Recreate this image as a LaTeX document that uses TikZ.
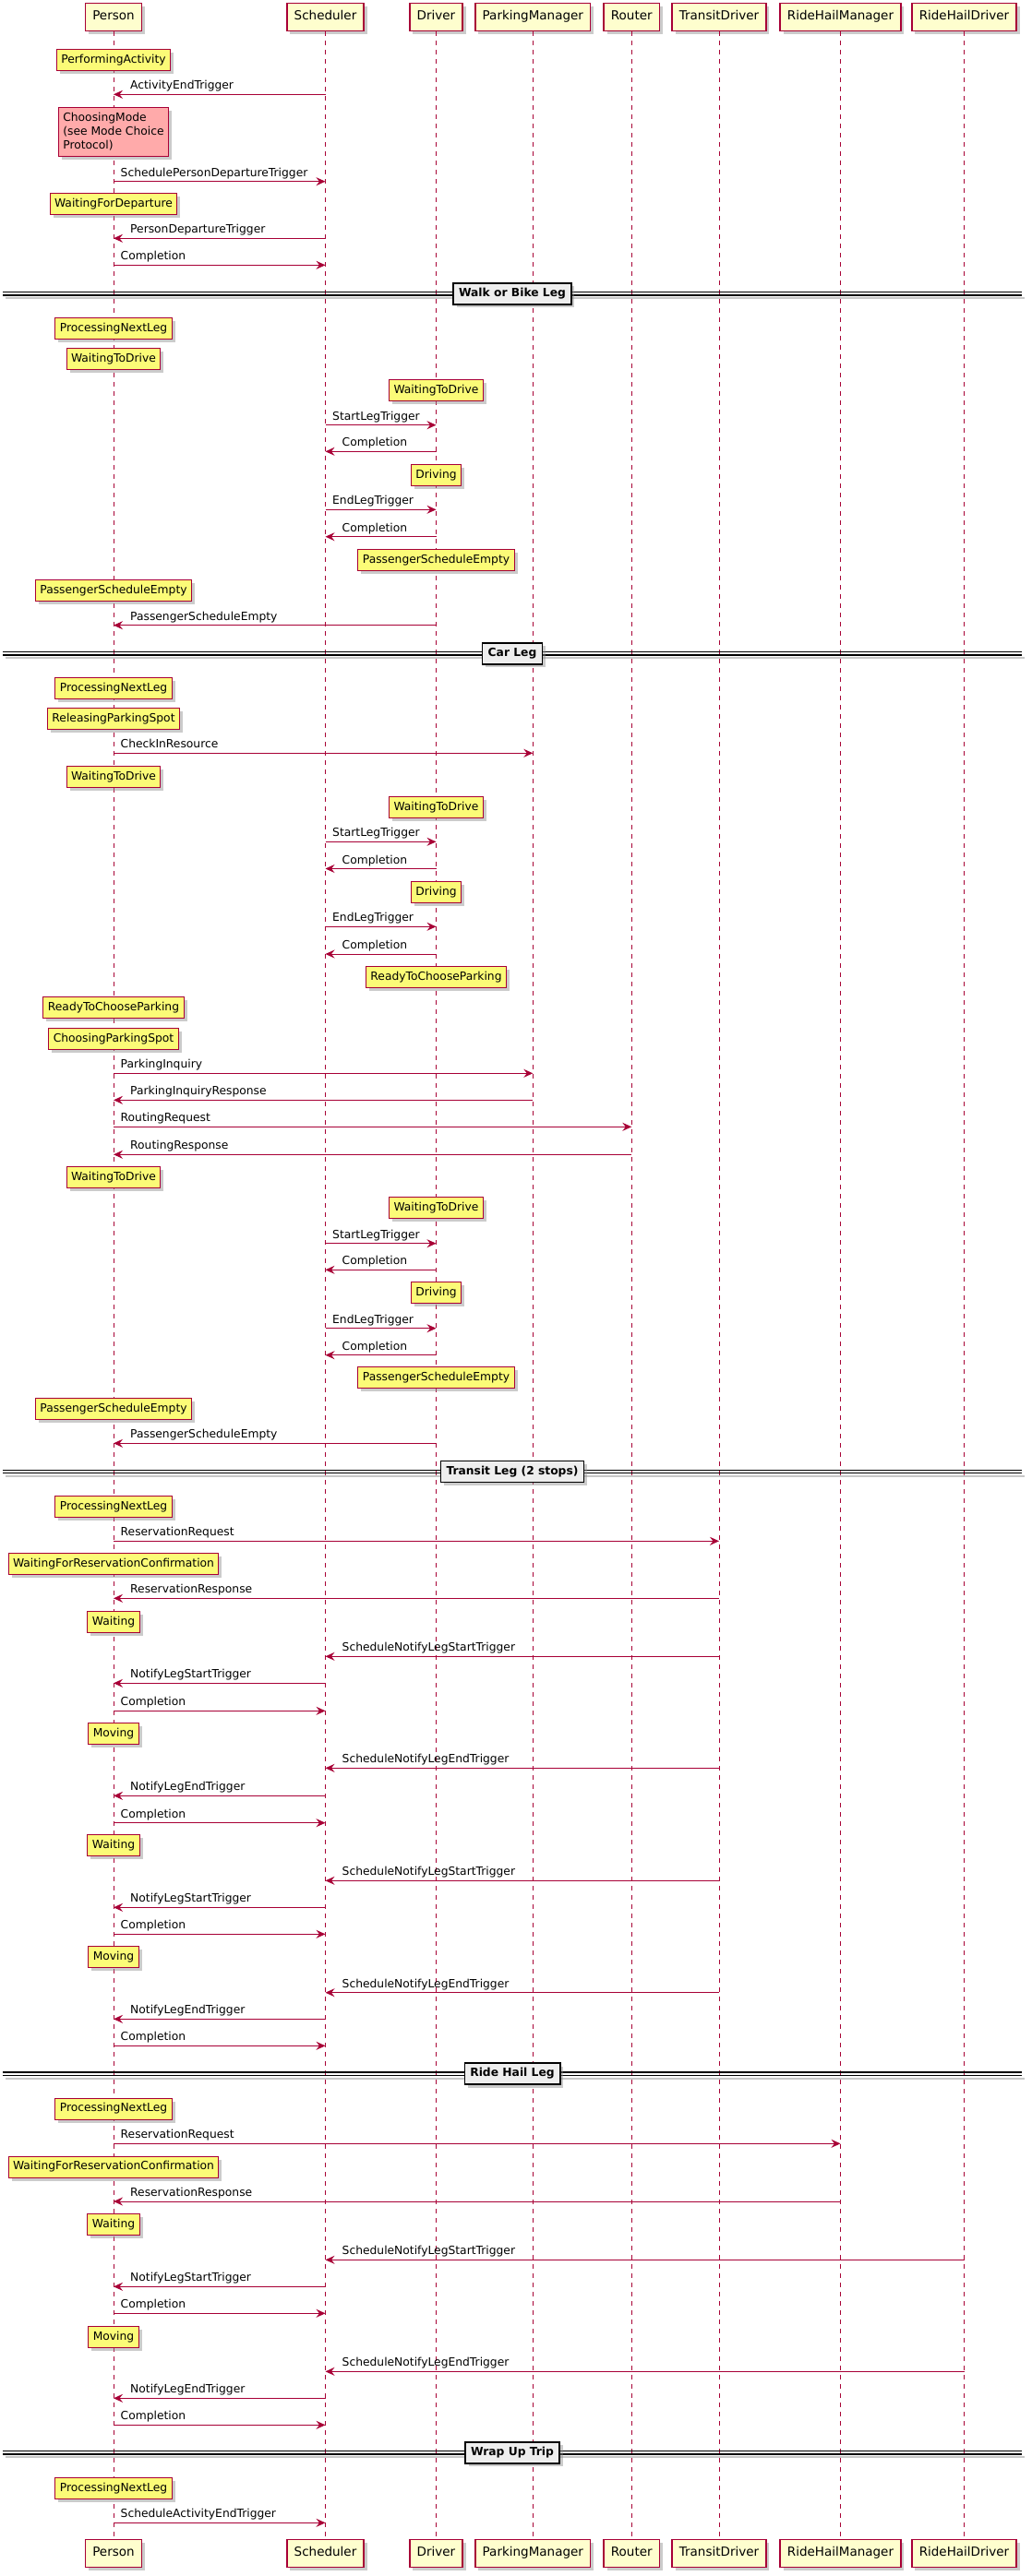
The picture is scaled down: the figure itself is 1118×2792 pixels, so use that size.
\documentclass[tikz,border=0pt]{standalone}
\usepackage{fontspec}
\setmainfont{DejaVu Sans}
\usetikzlibrary{arrows.meta,shadows,calc}
\definecolor{pu}{HTML}{A80036}
\definecolor{partfill}{HTML}{FEFECE}
\definecolor{notefill}{HTML}{FBFB77}
\definecolor{pinkfill}{HTML}{FFAAAA}
\definecolor{divfill}{HTML}{EEEEEE}
\tikzset{
  shad/.style={drop shadow={shadow xshift=3.5pt,shadow yshift=-3.5pt,fill=black!45,opacity=0.45}},
  part/.style={draw=pu, fill=partfill, line width=1.4pt, minimum height=30pt, inner xsep=7.8pt, inner ysep=0pt,
    font=\fontsize{13.5}{16}\selectfont, text height=10pt, text depth=3pt, shad},
  notebase/.style={draw=pu, fill=notefill, line width=1pt, inner xsep=5pt, shad,
    font=\fontsize{12.3}{15}\selectfont},
  note/.style={notebase, minimum height=23pt, inner ysep=0pt, text height=9.2pt, text depth=2.8pt},
  life/.style={draw=pu, line width=0.9pt, dash pattern=on 5pt off 5pt},
  msg/.style={draw=pu, line width=1pt, -{Stealth[length=10pt,width=9pt,inset=3.5pt]}},
  lbl/.style={inner sep=0pt, font=\fontsize{12.3}{15}\selectfont},
  divbox/.style={draw=black, fill=divfill, line width=1.6pt, minimum height=23pt, inner xsep=6pt, inner ysep=0pt,
    font=\bfseries\fontsize{12.3}{15}\selectfont, text height=9.2pt, text depth=2.8pt, shad},
  divline/.style={draw=black, line width=1.1pt},
  divshade/.style={draw=black!22, line width=2.2pt}
}
\newcounter{mc}
\newcommand\msgR[4]{%
  \stepcounter{mc}%
  \draw[msg] (#1 |- 0,#3) -- (#2 |- 0,#3);
  \node[lbl, anchor=base west] (m\arabic{mc}) at ($(#1 |- 0,#3)+(7.5,-5.5)$) {#4};}
\newcommand\msgL[4]{%
  \stepcounter{mc}%
  \draw[msg] (#1 |- 0,#3) -- (#2 |- 0,#3);
  \node[lbl, anchor=base west] (m\arabic{mc}) at ($(#2 |- 0,#3)+(18,-5.5)$) {#4};}
\newcommand\mnote[4]{\node[note] (#1) at (#2 |- 0,#3) {#4};}
\newcommand\mdivider[3]{%
  \draw[divshade] (6,{#2+5}) -- (1110,{#2+5});
  \draw[divline] (3,{#2-1.7}) -- (1107,{#2-1.7});
  \draw[divline] (3,{#2+1.7}) -- (1107,{#2+1.7});
  \node[divbox] (#1) at (555,#2) {#3};}
\begin{document}
\begin{tikzpicture}[x=1pt,y=-1pt]
\useasboundingbox[fill=white] (0,0) rectangle (1118,2792);
% participants
\node[part] (pT) at (123,18.3) {Person};
\node[part] (sT) at (352.5,18.3) {Scheduler};
\node[part] (dT) at (472.5,18.3) {Driver};
\node[part] (pmT) at (577.3,18.3) {ParkingManager};
\node[part] (rT) at (684.3,18.3) {Router};
\node[part] (tdT) at (779,18.3) {TransitDriver};
\node[part] (rhmT) at (910.5,18.3) {RideHailManager};
\node[part] (rhdT) at (1044.5,18.3) {RideHailDriver};
\node[part] (pB) at (123,2767.3) {Person};
\node[part] (sB) at (352.5,2767.3) {Scheduler};
\node[part] (dB) at (472.5,2767.3) {Driver};
\node[part] (pmB) at (577.3,2767.3) {ParkingManager};
\node[part] (rB) at (684.3,2767.3) {Router};
\node[part] (tdB) at (779,2767.3) {TransitDriver};
\node[part] (rhmB) at (910.5,2767.3) {RideHailManager};
\node[part] (rhdB) at (1044.5,2767.3) {RideHailDriver};
% lifelines
\draw[life] (pT.south) -- (pB.north);
\draw[life] (sT.south) -- (sB.north);
\draw[life] (dT.south) -- (dB.north);
\draw[life] (pmT.south) -- (pmB.north);
\draw[life] (rT.south) -- (rB.north);
\draw[life] (tdT.south) -- (tdB.north);
\draw[life] (rhmT.south) -- (rhmB.north);
\draw[life] (rhdT.south) -- (rhdB.north);
% dividers
\mdivider{dv1}{318.3}{Walk or Bike Leg}
\mdivider{dv2}{708.3}{Car Leg}
\mdivider{dv3}{1595}{Transit Leg (2 stops)}
\mdivider{dv4}{2247.7}{Ride Hail Leg}
\mdivider{dv5}{2658.3}{Wrap Up Trip}
% intro
\mnote{n1}{pT}{64.8}{PerformingActivity}
\msgL{sT}{pT}{102.3}{ActivityEndTrigger}
\node[notebase, fill=pinkfill, align=left, inner xsep=4.5pt, inner ysep=5.7pt,
  font=\fontsize{12.3}{15}\selectfont] (n2) at (pT |- 0,143) {ChoosingMode\\(see Mode Choice\\Protocol)};
\msgR{pT}{sT}{196.7}{SchedulePersonDepartureTrigger}
\mnote{n3}{pT}{220.8}{WaitingForDeparture}
\msgL{sT}{pT}{258.3}{PersonDepartureTrigger}
\msgR{pT}{sT}{287.3}{Completion}
% walk or bike
\mnote{n4}{pT}{355.8}{ProcessingNextLeg}
\mnote{n5}{pT}{389}{WaitingToDrive}
\mnote{n6}{dT}{423}{WaitingToDrive}
\msgR{sT}{dT}{460.7}{StartLegTrigger}
\msgL{dT}{sT}{489.3}{Completion}
\mnote{n7}{dT}{515}{Driving}
\msgR{sT}{dT}{552.3}{EndLegTrigger}
\msgL{dT}{sT}{581.7}{Completion}
\mnote{n8}{dT}{606.8}{PassengerScheduleEmpty}
\mnote{n9}{pT}{640}{PassengerScheduleEmpty}
\msgL{dT}{pT}{677.7}{PassengerScheduleEmpty}
% car
\mnote{n10}{pT}{745.8}{ProcessingNextLeg}
\mnote{n11}{pT}{779}{ReleasingParkingSpot}
\msgR{pT}{pmT}{816.3}{CheckInResource}
\mnote{n12}{pT}{842}{WaitingToDrive}
\mnote{n13}{dT}{875}{WaitingToDrive}
\msgR{sT}{dT}{912.3}{StartLegTrigger}
\msgL{dT}{sT}{941.5}{Completion}
\mnote{n14}{dT}{967}{Driving}
\msgR{sT}{dT}{1004.3}{EndLegTrigger}
\msgL{dT}{sT}{1034}{Completion}
\mnote{n15}{dT}{1059}{ReadyToChooseParking}
\mnote{n16}{pT}{1092}{ReadyToChooseParking}
\mnote{n17}{pT}{1126}{ChoosingParkingSpot}
\msgR{pT}{pmT}{1163.3}{ParkingInquiry}
\msgL{pmT}{pT}{1192.3}{ParkingInquiryResponse}
\msgR{pT}{rT}{1221.3}{RoutingRequest}
\msgL{rT}{pT}{1251.3}{RoutingResponse}
\mnote{n18}{pT}{1276}{WaitingToDrive}
\mnote{n19}{dT}{1309}{WaitingToDrive}
\msgR{sT}{dT}{1347.7}{StartLegTrigger}
\msgL{dT}{sT}{1376.3}{Completion}
\mnote{n20}{dT}{1401}{Driving}
\msgR{sT}{dT}{1439.7}{EndLegTrigger}
\msgL{dT}{sT}{1468.7}{Completion}
\mnote{n21}{dT}{1493}{PassengerScheduleEmpty}
\mnote{n22}{pT}{1527}{PassengerScheduleEmpty}
\msgL{dT}{pT}{1564.3}{PassengerScheduleEmpty}
% transit
\mnote{n23}{pT}{1633}{ProcessingNextLeg}
\msgR{pT}{tdT}{1670.3}{ReservationRequest}
\mnote{n24}{pT}{1695}{WaitingForReservationConfirmation}
\msgL{tdT}{pT}{1732.3}{ReservationResponse}
\mnote{n25}{pT}{1757.8}{Waiting}
\msgL{tdT}{sT}{1795.3}{ScheduleNotifyLegStartTrigger}
\msgL{sT}{pT}{1824.3}{NotifyLegStartTrigger}
\msgR{pT}{sT}{1854.3}{Completion}
\mnote{n26}{pT}{1878.8}{Moving}
\msgL{tdT}{sT}{1916.3}{ScheduleNotifyLegEndTrigger}
\msgL{sT}{pT}{1946.3}{NotifyLegEndTrigger}
\msgR{pT}{sT}{1975.7}{Completion}
\mnote{n27}{pT}{1999.8}{Waiting}
\msgL{tdT}{sT}{2038.3}{ScheduleNotifyLegStartTrigger}
\msgL{sT}{pT}{2067.3}{NotifyLegStartTrigger}
\msgR{pT}{sT}{2096.3}{Completion}
\mnote{n28}{pT}{2120.8}{Moving}
\msgL{tdT}{sT}{2159.7}{ScheduleNotifyLegEndTrigger}
\msgL{sT}{pT}{2188.3}{NotifyLegEndTrigger}
\msgR{pT}{sT}{2217.3}{Completion}
% ride hail
\mnote{n29}{pT}{2285.7}{ProcessingNextLeg}
\msgR{pT}{rhmT}{2323.3}{ReservationRequest}
\mnote{n30}{pT}{2348.7}{WaitingForReservationConfirmation}
\msgL{rhmT}{pT}{2386}{ReservationResponse}
\mnote{n31}{pT}{2411}{Waiting}
\msgL{rhdT}{sT}{2449.3}{ScheduleNotifyLegStartTrigger}
\msgL{sT}{pT}{2478.3}{NotifyLegStartTrigger}
\msgR{pT}{sT}{2507.3}{Completion}
\mnote{n32}{pT}{2532.8}{Moving}
\msgL{rhdT}{sT}{2570.3}{ScheduleNotifyLegEndTrigger}
\msgL{sT}{pT}{2599.3}{NotifyLegEndTrigger}
\msgR{pT}{sT}{2628.3}{Completion}
% wrap up
\mnote{n33}{pT}{2696.8}{ProcessingNextLeg}
\msgR{pT}{sT}{2734.3}{ScheduleActivityEndTrigger}
\end{tikzpicture}
\end{document}
